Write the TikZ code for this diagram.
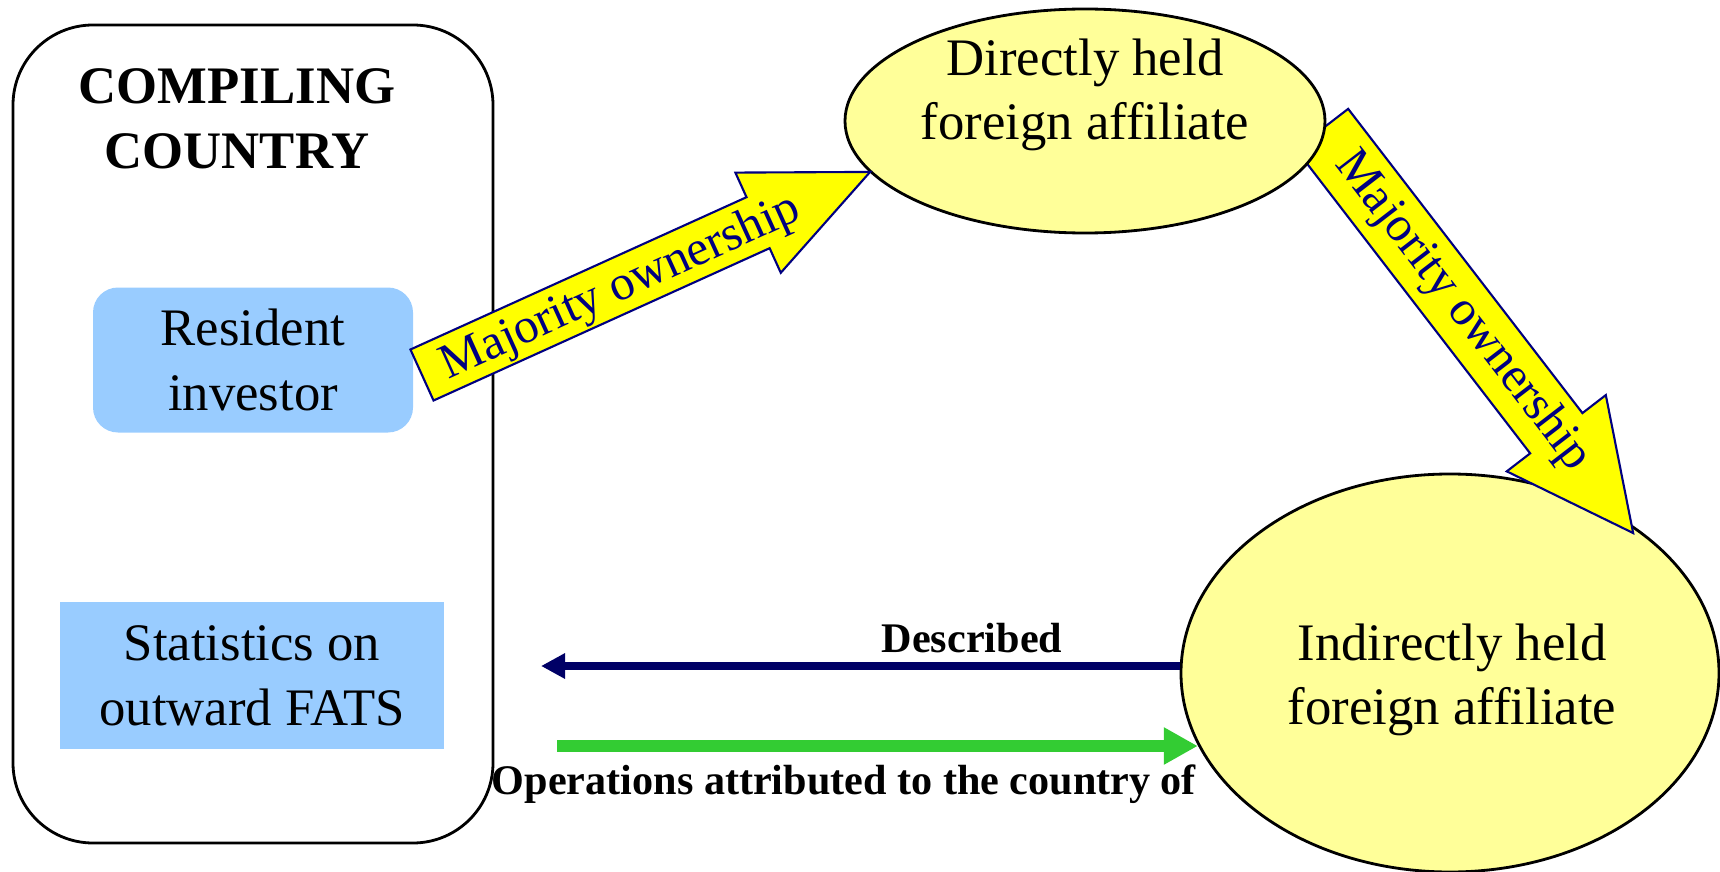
\documentclass[tikz,border=0pt]{standalone}
\usepackage{fontspec}
\setmainfont{Liberation Serif}
\usepackage{xcolor}
\usepackage{tikz}
\usetikzlibrary{shapes.geometric,arrows.meta,positioning}
\definecolor{boxblue}{HTML}{99CCFF}
\definecolor{affil}{HTML}{FFFF99}
\definecolor{arrowyel}{HTML}{FFFF00}
\definecolor{inkblue}{HTML}{000080}
\definecolor{descblue}{HTML}{000066}
\definecolor{opsgreen}{HTML}{33CC33}
\newcommand{\bigtext}{\fontsize{15}{18.4}\selectfont}
\tikzset{
  country/.style={draw=black, line width=0.8pt, rounded corners=0.8cm},
  bluebox/.style={fill=boxblue, align=center, font=\bigtext, inner sep=0pt},
  affnode/.style={ellipse, draw=black, line width=0.8pt, fill=affil, inner sep=0pt},
  afftext/.style={align=center, font=\bigtext},
  bigarrow/.style={draw=inkblue, line width=0.6pt, fill=arrowyel, line join=miter},
  arrlab/.style={text=inkblue, font=\fontsize{14}{16}\selectfont},
  smalllab/.style={font=\fontsize{12}{14}\selectfont\bfseries},
  descarrow/.style={draw=descblue, line width=0.08cm, -{Triangle[length=2.4mm,width=2.4mm]}},
  opsarrow/.style={draw=opsgreen, line width=0.12cm, -{Triangle[length=3.4mm,width=3.5mm]}},
}

\begin{document}
\begin{tikzpicture}
  \useasboundingbox (0,0) rectangle (17.2,-8.72);

  % compiling country frame
  \draw[country] (0.13,-0.25) rectangle (4.93,-8.43);
  \node[font=\bigtext\bfseries, align=center] (ctitle) at (2.37,-1.185) {COMPILING\\COUNTRY};

  \node[bluebox, rounded corners=0.25cm, minimum width=3.2cm, minimum height=1.45cm] (investor) at (2.53,-3.6) {Resident\\investor};
  \node[bluebox, minimum width=3.84cm, minimum height=1.47cm] (fats) at (2.52,-6.755) {Statistics on\\outward FATS};

  % lower affiliate first, the arrow head sits on top of it
  \node[affnode, minimum width=5.38cm, minimum height=3.98cm] (indirect) at (14.5,-6.73) {};
  \node[afftext] (indirecttxt) at (14.52,-6.8) {Indirectly held\\foreign affiliate};

  % majority ownership, direct -> indirect (tail hidden under the upper ellipse)
  \begin{scope}[shift={(13.22,-1.29)}, rotate=-52.4]
    \draw[bigarrow] (0,-0.33) -- (3.84,-0.33) -- (3.84,-0.625) -- (5.10,0)
      -- (3.84,0.625) -- (3.84,0.33) -- (0,0.33) -- cycle;
    \node[arrlab, rotate=-52.4] (own2) at (2.3,0) {Majority ownership};
  \end{scope}

  \node[affnode, minimum width=4.8cm, minimum height=2.24cm] (direct) at (10.85,-1.21) {};
  \node[afftext] (directtxt) at (10.85,-0.95) {Directly held\\foreign affiliate};

  % majority ownership, investor -> direct
  \begin{scope}[shift={(4.22,-3.75)}, rotate=24.38]
    \draw[bigarrow] (0,-0.28) -- (3.69,-0.28) -- (3.69,-0.55) -- (4.92,0)
      -- (3.69,0.55) -- (3.69,0.28) -- (0,0.28) -- cycle;
    \node[arrlab, rotate=24.38] (own1) at (2.17,-0.03) {Majority ownership};
  \end{scope}

  % described / attributed
  \coordinate (descend) at (5.41,-6.66);
  \draw[descarrow] (indirect.west |- descend) -- (descend);
  \node[smalllab, anchor=base] (desclab) at (9.72,-6.52) {Described};

  \coordinate (opsstart) at (5.57,-7.46);
  \draw[opsarrow] (opsstart) -- (opsstart -| indirect.196);
  \node[smalllab, anchor=base] (opslab) at (8.44,-7.94) {Operations attributed to the country of};
\end{tikzpicture}
\end{document}
